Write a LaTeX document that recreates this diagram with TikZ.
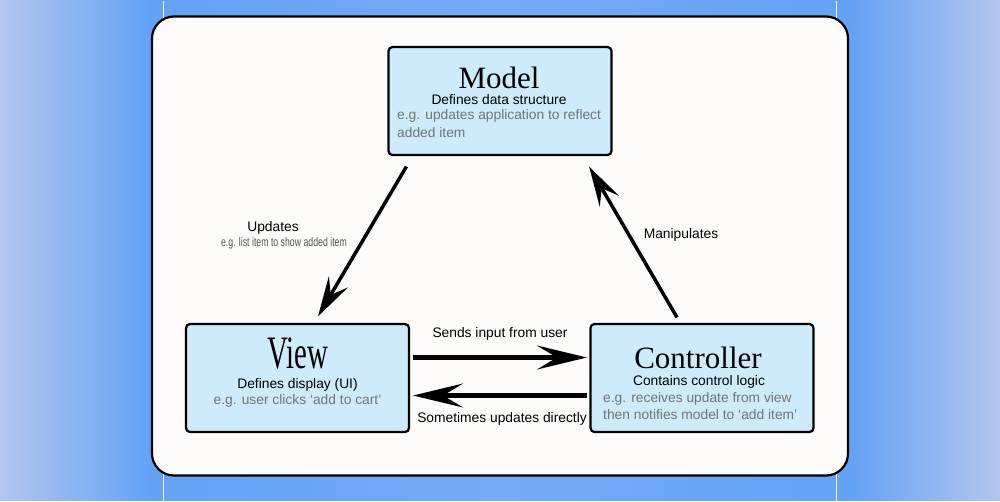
\documentclass[tikz,border=0pt]{standalone}
\usepackage{fontspec}
\setmainfont{Liberation Sans}
\newfontfamily\titlefont{Liberation Serif}
\usetikzlibrary{arrows.meta}
\definecolor{bgin}{HTML}{64A2F5}
\definecolor{bgmid}{HTML}{74ABF6}
\definecolor{bgout}{HTML}{B4C6EE}
\definecolor{boxblue}{HTML}{CDEBFB}
\definecolor{paper}{HTML}{FFFBFA}
\definecolor{note}{HTML}{747474}
\definecolor{smallnote}{HTML}{555555}
\pgfdeclarehorizontalshading{backdrop}{100bp}{color(0bp)=(bgout); color(25bp)=(bgout); color(32.5bp)=(bgin); color(50bp)=(bgmid); color(67.5bp)=(bgin); color(75bp)=(bgout); color(100bp)=(bgout)}

\begin{document}
\begin{tikzpicture}[x=1pt,y=-1pt,
box/.style={draw,line width=2.2pt,rounded corners=4pt,fill=boxblue,minimum width=223pt,minimum height=108pt,inner sep=0pt},
ttl/.style={font=\titlefont\fontsize{31}{31}\selectfont,anchor=base,inner sep=0pt,text depth=0pt},
sub/.style={font=\fontsize{13.8}{16}\selectfont,anchor=base,inner sep=0pt},
eg/.style={sub,text=note},
arr/.style={line width=3.5pt,-{Stealth[length=40pt,width=22pt,inset=15pt]}},
harr/.style={line width=4.5pt,-{Stealth[length=50pt,width=24pt,inset=20pt]}}]
% background
\shade[shading=backdrop] (0,0) rectangle (1000,500);
\draw[white,line width=1pt] (163.5,0) -- (163.5,500);
\draw[white,line width=1pt] (836.5,0) -- (836.5,500);
\draw[line width=2.2pt,fill=paper,rounded corners=22pt] (152,16) rectangle (848,475);
% boxes
\node[box] (model) at (500,100.5) {};
\node[box] (view) at (297.5,377.5) {};
\node[box] (ctrl) at (702,377.5) {};
% model text
\node[ttl] (modelT) at (499,87.5) {Model};
\node[sub] (modelS) at (499,103.5) {Defines data structure};
\node[eg,anchor=base west] (modelE1) at (397,119) {e.g. updates application to reflect};
\node[eg,anchor=base west] (modelE2) at (397,136.5) {added item};
% view text
\node[ttl] (viewT) at (297.5,368) {\scalebox{0.93}[1.5]{View}};
\node[sub] (viewS) at (297.5,388) {Defines display (UI)};
\node[eg] (viewE) at (297.5,404) {e.g. user clicks ‘add to cart’};
% controller text
\node[ttl] (ctrlT) at (698,368) {Controller};
\node[sub] (ctrlS) at (699,385) {Contains control logic};
\node[eg,anchor=base west] (ctrlE1) at (603,402) {e.g. receives update from view};
\node[eg,anchor=base west] (ctrlE2) at (603,419) {then notifies model to ‘add item’};
% connectors
\draw[arr] ([shift={(19,10.5)}]model.south west) -- ([shift={(20.5,-6.5)}]view.north);
\draw[arr] ([shift={(-25,-5.5)}]ctrl.north) -- ([shift={(-23.5,10.5)}]model.south east);
\draw[harr,shorten <=3pt,shorten >=2.5pt] ([yshift=20.5pt]view.east) -- ([yshift=20.5pt]ctrl.west);
\draw[harr,shorten <=2.5pt,shorten >=3pt] ([yshift=-17.5pt]ctrl.west) -- ([yshift=-17.5pt]view.east);
% labels
\node[sub] (updL) at (273,231) {Updates};
\node[anchor=base,inner sep=0pt,font=\fontsize{12.5}{14}\selectfont,text=smallnote] (updE) at (284,246) {\scalebox{0.7}[1]{e.g. list item to show added item}};
\node[sub] (manL) at (681,238) {Manipulates};
\node[sub] (sendL) at (500,337) {Sends input from user};
\node[sub] (someL) at (502,422) {Sometimes updates directly};
\end{tikzpicture}
\end{document}
